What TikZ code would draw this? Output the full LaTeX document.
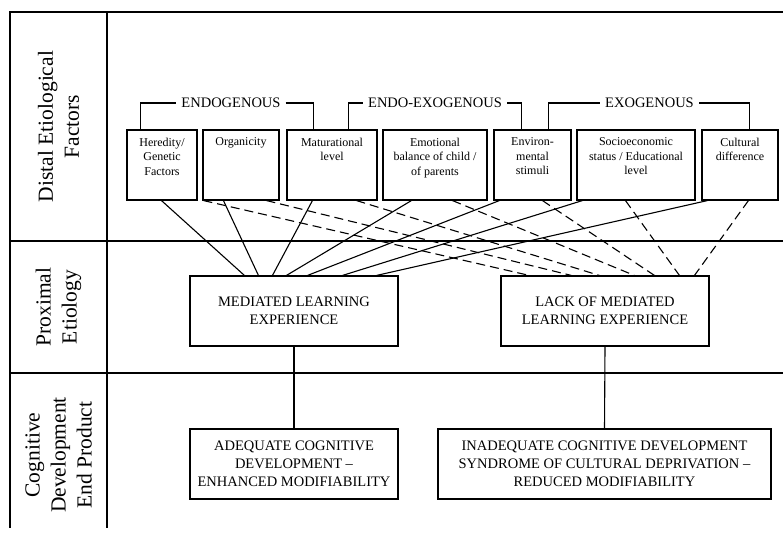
\documentclass[tikz,border=0pt]{standalone}
\usepackage{fontspec}
\setmainfont{Liberation Serif}
\usetikzlibrary{positioning}

\begin{document}
\begin{tikzpicture}[x=1pt,y=-1pt,
  frame/.style={line width=1.5pt},
  factor/.style={draw,line width=1.1pt,inner xsep=0pt,inner ysep=8pt,font=\fontsize{12}{14.5}\selectfont},
  outcome/.style={draw,line width=1.1pt,minimum height=70pt,inner sep=0pt,align=center,font=\fontsize{14.5}{18}\selectfont},
  group/.style={inner xsep=5pt,inner ysep=2pt,font=\fontsize{14.5}{18}\selectfont},
  rowlabel/.style={rotate=90,align=center,font=\fontsize{21.5}{26}\selectfont},
  link/.style={line width=1.1pt},
  nolink/.style={line width=1.1pt,dash pattern=on 9pt off 5pt}]
\useasboundingbox (0,0) rectangle (783,536);
\draw[frame] (783,12) -- (10,12) -- (10,528);
\draw[frame] (107,12) -- (107,528);
\draw[frame] (10,241) -- (783,241);
\draw[frame] (10,373) -- (783,373);

\node[rowlabel] (distal) at (58.5,126.5) {Distal Etiological\\Factors};
\node[rowlabel] (proximal) at (58.5,307) {Proximal\\Etiology};
\node[rowlabel] (endprod) at (58.5,455) {Cognitive\\Development\\End Product};

\node[factor] (her) at (162,165) {\parbox[c][54pt][t]{70pt}{\centering Heredity/\\Genetic\\Factors}};
\node[factor] (org) at (241,165) {\parbox[c][54pt][t]{76pt}{\centering Organicity}};
\node[factor] (mat) at (332,165) {\parbox[c][54pt][t]{90pt}{\centering Maturational\\level}};
\node[factor] (emo) at (435,165) {\parbox[c][54pt][t]{104pt}{\centering Emotional\\balance of child /\\of parents}};
\node[factor] (env) at (532.5,165) {\parbox[c][54pt][t]{77pt}{\centering Environ-\\mental\\stimuli}};
\node[factor] (soc) at (636,165) {\parbox[c][54pt][t]{118pt}{\centering Socioeconomic\\status / Educational\\level}};
\node[factor] (cul) at (740,165) {\parbox[c][54pt][t]{76pt}{\centering Cultural\\difference}};

\node[group] (endo) at (231,103) {ENDOGENOUS};
\node[group] (endoexo) at (435,103) {ENDO-EXOGENOUS};
\node[group] (exo) at (649.5,103) {EXOGENOUS};
\draw[link] ([xshift=14]her.north west) |- (endo.west);
\draw[link] (endo.east) -| ([xshift=27]mat.north west);
\draw[link] ([xshift=62]mat.north west) |- (endoexo.west);
\draw[link] (endoexo.east) -| ([xshift=28]env.north west);
\draw[link] ([xshift=55]env.north west) |- (exo.west);
\draw[link] (exo.east) -| ([xshift=48]cul.north west);

\node[outcome,minimum width=208pt] (mle) at (294,311) {MEDIATED LEARNING\\EXPERIENCE};
\node[outcome,minimum width=208pt] (lack) at (605,311) {LACK OF MEDIATED\\LEARNING EXPERIENCE};
\node[outcome,minimum width=208pt] (adeq) at (294,464) {ADEQUATE COGNITIVE\\DEVELOPMENT --\\ENHANCED MODIFIABILITY};
\node[outcome,minimum width=333pt] (inadeq) at (604.5,464) {INADEQUATE COGNITIVE DEVELOPMENT\\SYNDROME OF CULTURAL DEPRIVATION --\\REDUCED MODIFIABILITY};

\foreach \src/\a/\b in {her/35/55,org/21/69,mat/26/83,emo/29/97,env/6/118,soc/6/153,cul/6/187}
  \draw[link] ([xshift=\a]\src.south west) -- ([xshift=\b]mle.north west);
\foreach \src/\a/\b in {org/1/29,org/64/71,mat/70/99,emo/70/134,env/49/154,soc/49/179,cul/47/194}
  \draw[nolink] ([xshift=\a]\src.south west) -- ([xshift=\b]lack.north west);

\draw[link] (mle.south) -- (adeq.north);
\draw[link] (lack.south) -- (inadeq.north);
\end{tikzpicture}
\end{document}
